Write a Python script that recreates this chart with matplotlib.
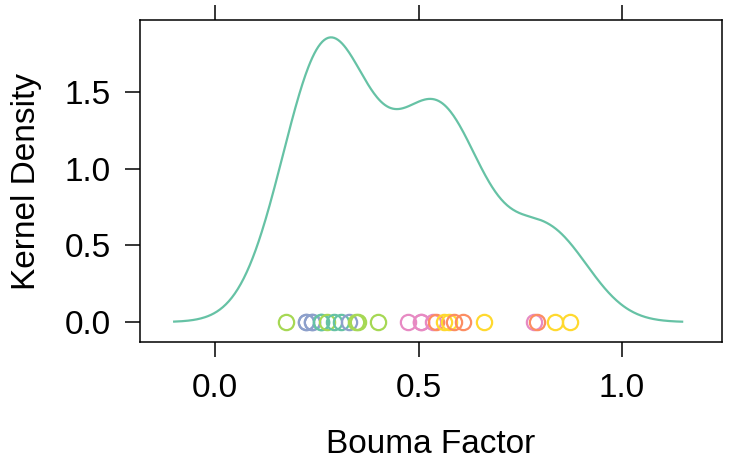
import matplotlib
matplotlib.use("Agg")
import matplotlib.pyplot as plt
import numpy as np

plt.rcParams['font.family'] = ['Liberation Sans', 'DejaVu Sans']

bouma = [0.175, 0.224, 0.224, 0.239, 0.239, 0.259, 0.259, 0.276, 0.293, 0.308, 0.330, 0.347, 0.350, 0.399,
         0.473, 0.505, 0.505, 0.535, 0.542, 0.562, 0.574, 0.588, 0.610, 0.662,
         0.783, 0.790, 0.835, 0.872]
groups = ['g', 'b', 'b', 'b', 'b', 't', 't', 'g', 't', 't', 'b', 'g', 'g', 'g',
          'p', 'p', 'p', 'p', 'o', 'y', 'y', 'o', 'o', 'y',
          'p', 'o', 'y', 'y']
group_colors = {'t': '#66C2A5', 'o': '#FC8D62', 'b': '#8DA0CB',
                'p': '#E78AC3', 'g': '#A6D854', 'y': '#FFD92F'}
bw = 0.092  # kernel bandwidth

x = np.array(bouma)
n = len(x)
grid = np.linspace(x.min() - 3 * bw, x.max() + 3 * bw, 512)
dens = np.exp(-0.5 * ((grid[:, None] - x[None, :]) / bw) ** 2).sum(axis=1) / (n * bw * np.sqrt(2 * np.pi))

fig = plt.figure(figsize=(7.4, 4.61), dpi=100)
ax = fig.add_axes([140 / 740, 1 - 342 / 461, 582 / 740, 322 / 461])

ax.plot(grid, dens, color='#66C2A5', lw=1.6)
for xi, g in zip(bouma, groups):
    ax.plot(xi, 0, 'o', mfc='none', mec=group_colors[g], ms=11, mew=1.6)

ax.set_xlim(-0.185, 1.246)
ax.set_ylim(-0.13, 1.968)
ax.set_xticks([0.0, 0.5, 1.0])
ax.set_xticklabels(['0.0', '0.5', '1.0'])
ax.set_yticks([0.0, 0.5, 1.0, 1.5])
ax.set_yticklabels(['0.0', '0.5', '1.0', '1.5'])
ax.tick_params(axis='x', top=True, labeltop=False, direction='out', length=11, width=1.1, labelsize=24, pad=11)
ax.tick_params(axis='y', right=False, direction='out', length=11, width=1.1, labelsize=24, pad=10)
for s in ax.spines.values():
    s.set_linewidth(1.1)

ax.set_xlabel('Bouma Factor', fontsize=24, labelpad=18)
ax.set_ylabel('Kernel Density', fontsize=24, labelpad=16)

fig.savefig('out.png', dpi=100)
